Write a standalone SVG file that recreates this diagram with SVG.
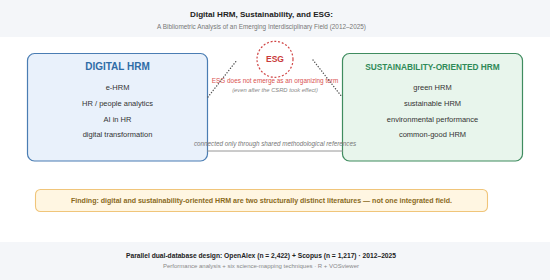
<svg xmlns="http://www.w3.org/2000/svg" width="550" height="280" viewBox="0 0 550 280">
<style>
text{font-family:"Liberation Sans",Arial,Helvetica,sans-serif}
.band{fill:#f4f6f9}
.title{font-size:8.1px;font-weight:bold;fill:#222;text-anchor:middle}
.sub{font-size:6.4px;fill:#777;text-anchor:middle}
.item{font-size:7.5px;fill:#333;text-anchor:middle}
.dot{fill:none;stroke:#555;stroke-width:1.4;stroke-dasharray:0.1 2.7;stroke-linecap:round}
</style>
<rect class="band" x="0" y="0" width="550" height="37"/>
<text class="title" x="261.5" y="17">Digital HRM, Sustainability, and ESG:</text>
<text class="sub" x="261.5" y="29">A Bibliometric Analysis of an Emerging Interdisciplinary Field (2012–2025)</text>

<g id="digital-hrm">
<rect x="27.5" y="53.5" width="180" height="107.5" rx="7" fill="#e9f1fb" stroke="#4a7db3" stroke-width="1.2"/>
<text x="117.5" y="70" font-size="10" font-weight="bold" fill="#2f6ca6" text-anchor="middle">DIGITAL HRM</text>
<text class="item" x="117.5" y="90">e-HRM</text>
<text class="item" x="117.5" y="106">HR / people analytics</text>
<text class="item" x="117.5" y="121.7">AI in HR</text>
<text class="item" x="117.5" y="137.3">digital transformation</text>
</g>

<g id="sustainability-hrm">
<rect x="342.5" y="53.5" width="180" height="107.5" rx="7" fill="#e8f5ec" stroke="#3f8c5f" stroke-width="1.2"/>
<text x="432.5" y="70" font-size="8.3" font-weight="bold" fill="#2f8a57" text-anchor="middle">SUSTAINABILITY-ORIENTED HRM</text>
<text class="item" x="432.5" y="90">green HRM</text>
<text class="item" x="432.5" y="106">sustainable HRM</text>
<text class="item" x="432.5" y="121.7">environmental performance</text>
<text class="item" x="432.5" y="137.3">common-good HRM</text>
</g>

<g id="esg">
<circle cx="275" cy="59.3" r="18" fill="#ffffff" stroke="#d04545" stroke-width="1.2" stroke-dasharray="2 1.8"/>
<text x="275" y="62.3" font-size="8.5" font-weight="bold" fill="#c93a3a" text-anchor="middle">ESG</text>
<text x="275" y="83.3" font-size="6.4" fill="#d9534f" text-anchor="middle">ESG does not emerge as an organizing term</text>
<text x="275" y="91.7" font-size="5.8" font-style="italic" fill="#888" text-anchor="middle">(even after the CSRD took effect)</text>
</g>

<g id="connectors">
<line class="dot" x1="208" y1="97" x2="237" y2="60"/>
<line class="dot" x1="313" y1="60" x2="342" y2="97"/>
<line x1="207" y1="151" x2="343" y2="151" stroke="#8a8a8a" stroke-width="0.9"/>
<text x="275" y="146" font-size="6.3" font-style="italic" fill="#777" text-anchor="middle">connected only through shared methodological references</text>
</g>

<g id="finding">
<rect x="35.5" y="189.5" width="452" height="22" rx="5" fill="#fff6e2" stroke="#f0c57a" stroke-width="1.1"/>
<text x="261.5" y="203.3" font-size="7.05" font-weight="bold" fill="#8a6a1c" text-anchor="middle">Finding: digital and sustainability-oriented HRM are two structurally distinct literatures — not one integrated field.</text>
</g>

<rect class="band" x="0" y="242" width="550" height="38"/>
<text x="261" y="257.7" font-size="6.7" font-weight="bold" fill="#222" text-anchor="middle">Parallel dual-database design: OpenAlex (n = 2,422) + Scopus (n = 1,217) · 2012–2025</text>
<text x="261" y="268.3" font-size="6" fill="#888" text-anchor="middle">Performance analysis + six science-mapping techniques · R + VOSviewer</text>
</svg>
